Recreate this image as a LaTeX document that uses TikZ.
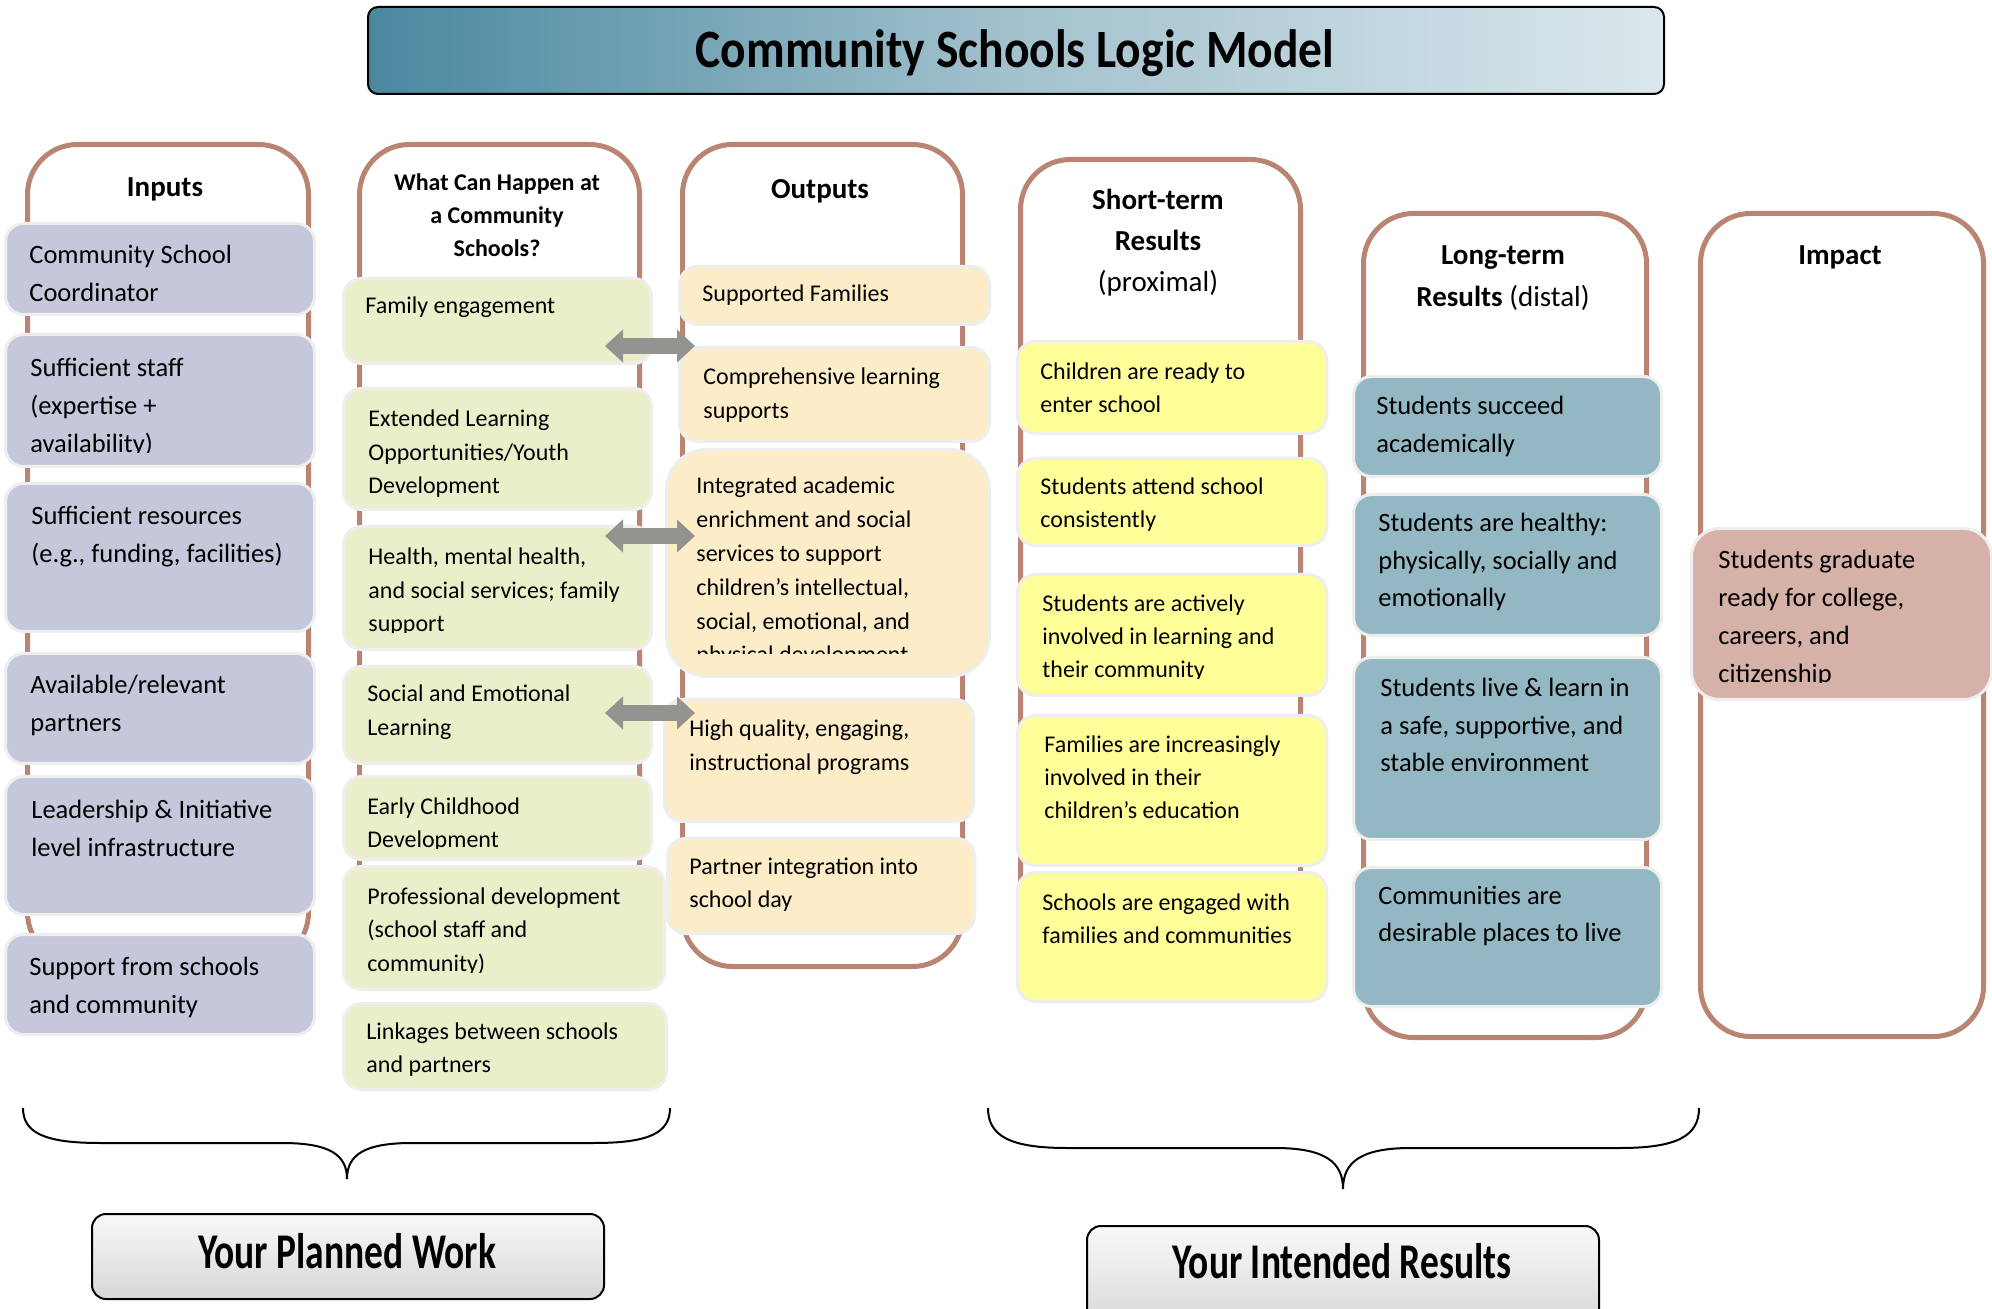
\documentclass[tikz,border=0pt]{standalone}
\usepackage{fontspec}
\setmainfont{Carlito}
\newfontfamily\condfont{Carlito}[FakeStretch=0.75]
\newfontfamily\titlefont{Carlito}[FakeStretch=0.88]
\usetikzlibrary{arrows.meta}

\definecolor{framec}{HTML}{B98471}
\definecolor{inputc}{HTML}{C5C8DB}
\definecolor{greenc}{HTML}{EBEFC9}
\definecolor{creamc}{HTML}{FCEDC8}
\definecolor{yellowc}{HTML}{FFFF99}
\definecolor{tealc}{HTML}{93B8C3}
\definecolor{pinkc}{HTML}{D5B1A7}
\definecolor{boxline}{HTML}{EEEEEE}
\definecolor{arrowc}{HTML}{939490}
\definecolor{titledark}{HTML}{4A88A0}
\definecolor{titlemid}{HTML}{A3C2CD}
\definecolor{titlelight}{HTML}{DAE7EC}
\definecolor{labtop}{HTML}{F9F9F9}
\definecolor{labbot}{HTML}{D6D6D6}

\newcommand\ltext[1]{\vtop{\halign{##\hfil\cr#1\crcr}}}
\newcommand\ctext[1]{\vtop{\halign{\hfil##\hfil\cr#1\crcr}}}
\newcommand\mkbox[6]{\node[#2,anchor=north west,minimum width={(#5-#3)*0.5pt},minimum height={(#6-#4)*0.5pt}] (#1) at (#3,#4) {};}

\tikzset{
  frame/.style={draw=framec, line width=2.5pt, rounded corners=25pt, fill=white, inner sep=0pt},
  ibox/.style={fill=inputc, draw=boxline, line width=1.5pt, rounded corners=9pt, inner sep=0pt},
  gbox/.style={ibox, fill=greenc},
  obox/.style={ibox, fill=creamc},
  sbox/.style={ibox, fill=yellowc},
  tbox/.style={ibox, fill=tealc},
  pbox/.style={ibox, fill=pinkc, rounded corners=14pt},
  txt/.style={anchor=base west, inner sep=0pt},
  itx/.style={txt, font=\fontsize{13.25}{19}\selectfont},
  gtx/.style={txt, font=\fontsize{12}{16.75}\selectfont},
  otx/.style={txt, font=\fontsize{12}{16.9}\selectfont},
  stx/.style={txt, font=\fontsize{12}{16.5}\selectfont},
  ltx/.style={txt, font=\fontsize{13.25}{18.75}\selectfont},
  ptx/.style={txt, font=\fontsize{13.25}{18.85}\selectfont},
  head/.style={anchor=base, inner sep=0pt, font=\bfseries\fontsize{14.5}{20.5}\selectfont},
  dblarrow/.style={draw=arrowc, line width=8pt, arrows={Triangle[length=9pt,width=16pt]-Triangle[length=9pt,width=16pt]}},
  brace/.style={draw=black, line width=1pt},
  titlebox/.style={draw=black, line width=1pt, rounded corners=5pt, left color=titledark, right color=titlelight, middle color=titlemid, inner sep=0pt},
  lab/.style={draw=black, line width=1pt, rounded corners=7pt, top color=labtop, bottom color=labbot, inner sep=0pt},
  labtxt/.style={anchor=base, inner sep=0pt, font=\condfont\bfseries\fontsize{25}{30}\selectfont},
}

\begin{document}
\begin{tikzpicture}[x=0.5pt,y=-0.5pt]
\clip (0,0) rectangle (1992,1309);
\fill[white] (0,0) rectangle (1992,1309);

% title
\mkbox{title}{titlebox}{367}{6}{1663}{93}
\node[anchor=base, inner sep=0pt, font=\titlefont\bfseries\fontsize{27}{32}\selectfont] (title-t) at (1015,68) {Community Schools Logic Model};

% frames
\mkbox{f1}{frame}{25}{142}{306}{960}
\mkbox{f2}{frame}{357}{142}{637}{960}
\mkbox{f3}{frame}{680}{142}{960}{964}
\mkbox{f4}{frame}{1018}{157}{1298}{985}
\mkbox{f5}{frame}{1361}{211}{1644}{1035}
\mkbox{f6}{frame}{1698}{211}{1981}{1034}

% headers
\node[head] (h-in) at (165,197) {Inputs};
\node[head, font=\bfseries\fontsize{12}{16.5}\selectfont] (h-wch) at (497,191) {\ctext{What Can Happen at\cr a Community\cr Schools?}};
\node[head] (h-out) at (820,199) {Outputs};
\node[head] (h-st) at (1158,210) {\ctext{Short-term\cr Results\cr \mdseries(proximal)}};
\node[head, font=\bfseries\fontsize{14.5}{21}\selectfont] (h-lt) at (1503,265) {\ctext{Long-term\cr Results \mdseries(distal)}};
\node[head] (h-imp) at (1840,265) {Impact};

% inputs
\mkbox{i1}{ibox}{4}{222}{313}{313}
\mkbox{i2}{ibox}{4}{333}{313}{465}
\mkbox{i3}{ibox}{4}{482}{313}{630}
\mkbox{i4}{ibox}{4}{652}{313}{762}
\mkbox{i5}{ibox}{4}{775}{313}{913}
\mkbox{i6}{ibox}{4}{933}{313}{1033}
\node[itx] (t-i1) at (29,264) {\ltext{Community School\cr Coordinator}};
\begin{scope}
\clip (4,333) rectangle (313,453);
\node[itx] (t-i2) at (30,377) {\ltext{Sufficient staff\cr (expertise +\cr availability)}};
\end{scope}
\node[itx] (t-i3) at (31,525) {\ltext{Sufficient resources\cr (e.g., funding, facilities)}};
\node[itx] (t-i4) at (30,694) {\ltext{Available/relevant\cr partners}};
\node[itx] (t-i5) at (31,819) {\ltext{Leadership \& Initiative\cr level infrastructure}};
\node[itx] (t-i6) at (29,975) {\ltext{Support from schools\cr and community}};

% what can happen
\mkbox{g1}{gbox}{342}{277}{650}{362}
\mkbox{g2}{gbox}{342}{387}{650}{508}
\mkbox{g3}{gbox}{342}{525}{650}{648}
\mkbox{g4}{gbox}{342}{665}{650}{762}
\mkbox{g5}{gbox}{342}{775}{650}{858}
\mkbox{g6}{gbox}{342}{865}{663}{988}
\mkbox{g7}{gbox}{342}{1002}{665}{1088}
\node[gtx] (t-g1) at (365,314) {Family engagement};
\node[gtx] (t-g2) at (368,427) {\ltext{Extended Learning\cr Opportunities/Youth\cr Development}};
\begin{scope}
\clip (342,525) rectangle (650,633);
\node[gtx] (t-g3) at (368,565) {\ltext{Health, mental health,\cr and social services; family\cr support}};
\end{scope}
\node[gtx] (t-g4) at (367,702) {\ltext{Social and Emotional\cr Learning}};
\begin{scope}
\clip (342,775) rectangle (650,848);
\node[gtx] (t-g5) at (367,814) {\ltext{Early Childhood\cr Development}};
\end{scope}
\begin{scope}
\clip (342,865) rectangle (663,972);
\node[gtx] (t-g6) at (367,904) {\ltext{Professional development\cr (school staff and\cr community)}};
\end{scope}
\node[gtx] (t-g7) at (366,1039) {\ltext{Linkages between schools\cr and partners}};

% outputs
\mkbox{o1}{obox}{678}{265}{988}{323}
\mkbox{o2}{obox}{678}{346}{988}{440}
\mkbox{o3}{obox, rounded corners=20pt}{665}{448}{988}{675}
\mkbox{o4}{obox}{663}{698}{972}{820}
\mkbox{o5}{obox}{666}{837}{973}{932}
\node[otx] (t-o1) at (702,302) {Supported Families};
\node[otx] (t-o2) at (703,385) {\ltext{Comprehensive learning\cr supports}};
\begin{scope}
\clip (665,448) rectangle (988,654);
\node[otx] (t-o3) at (696,494) {\ltext{Integrated academic\cr enrichment and social\cr services to support\cr children’s intellectual,\cr social, emotional, and\cr physical development}};
\end{scope}
\node[otx] (t-o4) at (689,737) {\ltext{High quality, engaging,\cr instructional programs}};
\node[otx] (t-o5) at (689,874) {\ltext{Partner integration into\cr school day}};

% short-term
\mkbox{s1}{sbox}{1016}{340}{1325}{432}
\mkbox{s2}{sbox}{1016}{457}{1325}{544}
\mkbox{s3}{sbox}{1016}{573}{1325}{694}
\mkbox{s4}{sbox}{1016}{714}{1325}{864}
\mkbox{s5}{sbox}{1016}{871}{1325}{1000}
\node[stx] (t-s1) at (1040,380) {\ltext{Children are ready to\cr enter school}};
\node[stx] (t-s2) at (1040,495) {\ltext{Students attend school\cr consistently}};
\begin{scope}
\clip (1016,573) rectangle (1325,679);
\node[stx] (t-s3) at (1042,612) {\ltext{Students are actively\cr involved in learning and\cr their community}};
\end{scope}
\node[stx] (t-s4) at (1044,753) {\ltext{Families are increasingly\cr involved in their\cr children’s education}};
\node[stx] (t-s5) at (1042,910) {\ltext{Schools are engaged with\cr families and communities}};

% long-term
\mkbox{l1}{tbox}{1352}{375}{1660}{475}
\mkbox{l2}{tbox}{1352}{493}{1660}{634}
\mkbox{l3}{tbox}{1352}{656}{1660}{838}
\mkbox{l4}{tbox}{1352}{866}{1660}{1005}
\node[ltx] (t-l1) at (1376,415) {\ltext{Students succeed\cr academically}};
\node[ltx] (t-l2) at (1378,532) {\ltext{Students are healthy:\cr physically, socially and\cr emotionally}};
\node[ltx] (t-l3) at (1380,697) {\ltext{Students live \& learn in\cr a safe, supportive, and\cr stable environment}};
\node[ltx] (t-l4) at (1378,904) {\ltext{Communities are\cr desirable places to live}};

% impact
\mkbox{p1}{pbox}{1690}{527}{1990}{698}
\begin{scope}
\clip (1690,527) rectangle (1990,683);
\node[ptx] (t-p1) at (1718,569) {\ltext{Students graduate\cr ready for college,\cr careers, and\cr citizenship}};
\end{scope}

% arrows
\coordinate (a1w) at (605,346); \coordinate (a1e) at (695,346);
\coordinate (a2w) at (605,536); \coordinate (a2e) at (695,536);
\coordinate (a3w) at (605,713); \coordinate (a3e) at (695,713);
\draw[dblarrow] (a1w) -- (a1e);
\draw[dblarrow] (a2w) -- (a2e);
\draw[dblarrow] (a3w) -- (a3e);

% braces
\draw[brace] (23,1108) .. controls (23,1133) and (45,1143) .. (100,1143) -- (282,1143) .. controls (330,1143) and (347,1155) .. (347,1179) .. controls (347,1155) and (364,1143) .. (412,1143) -- (594,1143) .. controls (649,1143) and (670,1133) .. (670,1108);
\draw[brace] (988,1108) .. controls (988,1136) and (1010,1148) .. (1067,1148) -- (1275,1148) .. controls (1325,1148) and (1343,1162) .. (1343,1189) .. controls (1343,1162) and (1361,1148) .. (1411,1148) -- (1620,1148) .. controls (1677,1148) and (1699,1136) .. (1699,1108);

% bottom labels
\mkbox{planned}{lab}{91}{1213}{603}{1298}
\node[labtxt] (planned-t) at (347,1268) {Your Planned Work};
\mkbox{intended}{lab}{1086}{1225}{1598}{1330}
\node[labtxt] (intended-t) at (1342,1278) {Your Intended Results};
\end{tikzpicture}
\end{document}
